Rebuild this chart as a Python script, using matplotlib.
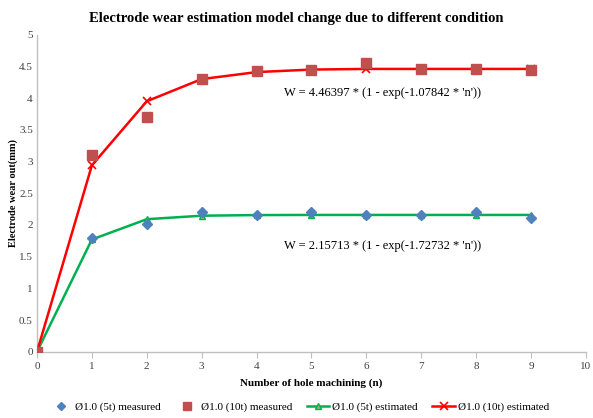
import numpy as np
import matplotlib.pyplot as plt

plt.rcParams['font.family'] = ['Liberation Serif', 'DejaVu Serif']

# number of holes
n = [0, 1, 2, 3, 4, 5, 6, 7, 8, 9]

# measured wear (mm)
meas_5t = [0, 1.80, 2.02, 2.20, 2.15, 2.20, 2.16, 2.16, 2.20, 2.11]
meas_10t = [0, 3.10, 3.70, 4.30, 4.43, 4.45, 4.55, 4.46, 4.46, 4.45]

# estimated wear (mm)
est_5t = [0, 1.77, 2.09, 2.145, 2.155, 2.157, 2.157, 2.157, 2.157, 2.157]
est_10t = [0, 2.94, 3.95, 4.30, 4.41, 4.45, 4.46, 4.46, 4.46, 4.46]

eq_10t = "W = 4.46397 * (1 - exp(-1.07842 * 'n'))"
eq_5t = "W = 2.15713 * (1 - exp(-1.72732 * 'n'))"

fig = plt.figure(figsize=(5.93, 4.18), dpi=100)
ax = fig.add_axes([0.0624, 0.1586, 0.9256, 0.7584])

ax.plot(n, meas_5t, linestyle='none', marker='D', markersize=5,
        color='#4F81BD', label='Ø1.0 (5t) measured', zorder=4)
ax.plot(n, meas_10t, linestyle='none', marker='s', markersize=6.5,
        color='#C0504D', label='Ø1.0 (10t) measured', zorder=4)
ax.plot(n, est_5t, color='#00B050', linewidth=1.8, marker='^', markersize=5,
        markerfacecolor='#9BBB59', markeredgecolor='#00B050',
        label='Ø1.0 (5t) estimated', zorder=3)
ax.plot(n, est_10t, color='#FF0000', linewidth=1.8, marker='x', markersize=6,
        markeredgewidth=1.2, label='Ø1.0 (10t) estimated', zorder=3)

ax.text(6.3, 4.08, eq_10t, ha='center', va='center', fontsize=9)
ax.text(6.3, 1.67, eq_5t, ha='center', va='center', fontsize=9)

ax.set_xlim(0, 10)
ax.set_ylim(0, 5)
ax.set_xticks(range(0, 11))
ax.set_yticks(np.arange(0, 5.01, 0.5))
ax.set_yticklabels(['0', '0.5', '1', '1.5', '2', '2.5', '3', '3.5', '4', '4.5', '5'])
ax.tick_params(labelsize=8, colors='#404040', length=4, width=0.8)
ax.tick_params(axis='y', length=0, pad=3)
for s in ['top', 'right']:
    ax.spines[s].set_visible(False)
for s in ['left', 'bottom']:
    ax.spines[s].set_color('#BFBFBF')
    ax.spines[s].set_linewidth(1)
ax.tick_params(axis='x', color='#BFBFBF', labelcolor='#404040')

ax.set_xlabel('Number of hole machining (n)', fontsize=8, fontweight='bold', labelpad=5)
ax.set_ylabel('Electrode wear out(mm)', fontsize=7.5, fontweight='bold', labelpad=1)

fig.suptitle('Electrode wear estimation model change due to different condition',
             fontsize=10.5, fontweight='bold', y=0.972)

fig.legend(loc='center', bbox_to_anchor=(0.505, 0.026), ncol=4, frameon=False,
           fontsize=8, handlelength=2.0, columnspacing=1.3, handletextpad=0.3,
           markerscale=0.85)

fig.savefig('out.png', dpi=100)
